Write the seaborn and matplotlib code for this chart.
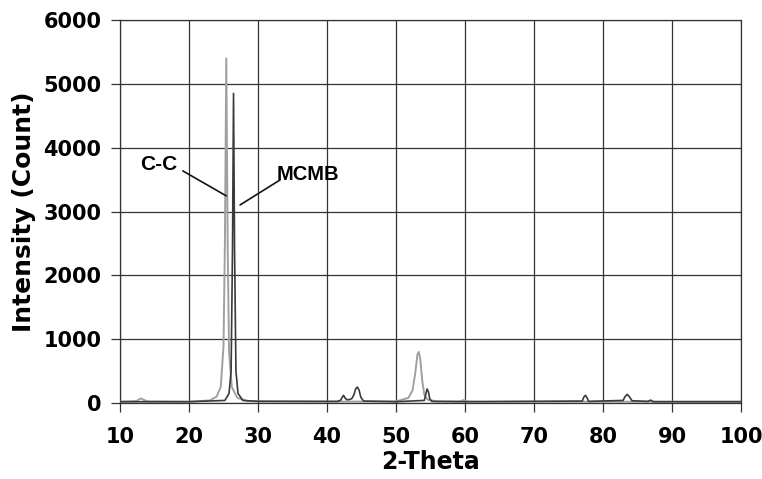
import matplotlib
matplotlib.use("Agg")
import matplotlib.pyplot as plt
import seaborn as sns
import pandas as pd

# XRD patterns, traced as (2-theta, counts) vertices
cc_theta = [10, 12.4, 12.8, 13.1, 13.5, 14.0, 20, 23.0, 24.0, 24.6, 25.0, 25.2,
            25.4, 25.6, 25.8, 26.2, 27.0, 28.5, 40, 50, 51.8, 52.4, 52.8, 53.1,
            53.3, 53.5, 53.8, 54.1, 54.6, 56, 59.3, 59.8, 60.3, 62, 100]
cc_count = [20, 30, 60, 70, 45, 25, 20, 40, 100, 250, 900, 2500,
            5400, 2500, 800, 250, 80, 30, 20, 25, 80, 200, 480, 760,
            800, 700, 350, 130, 50, 25, 25, 45, 25, 20, 20]

mcmb_theta = [10, 20, 25.2, 25.8, 26.1, 26.3, 26.45, 26.6, 26.8, 27.1, 27.8, 30,
              41.5, 42.0, 42.2, 42.4, 42.6, 42.9, 43.3, 43.6, 43.9, 44.15, 44.4,
              44.65, 44.9, 45.3, 50, 54.1, 54.3, 54.5, 54.7, 54.9, 55.2, 60,
              77.0, 77.2, 77.45, 77.7, 77.9, 82.9, 83.2, 83.5, 83.8, 84.2,
              86.5, 86.9, 87.3, 100]
mcmb_count = [20, 20, 40, 150, 500, 2400, 4850, 2400, 500, 150, 40, 25,
              25, 45, 90, 120, 80, 50, 55, 70, 130, 220, 250,
              200, 90, 30, 20, 40, 130, 220, 170, 60, 25, 20,
              30, 90, 120, 80, 25, 40, 100, 135, 100, 35,
              25, 45, 20, 20]

x_ticks = [10, 20, 30, 40, 50, 60, 70, 80, 90, 100]
y_ticks = [0, 1000, 2000, 3000, 4000, 5000, 6000]

sns.set_style("ticks")
plt.rcParams["font.family"] = ["DejaVu Sans"]
plt.rcParams["text.color"] = "black"
plt.rcParams["axes.labelcolor"] = "black"

fig = plt.figure(figsize=(7.62, 4.79), dpi=100)
ax = fig.add_axes([0.1575, 0.1587, 0.815, 0.7995])

cc = pd.DataFrame({"theta": cc_theta, "count": cc_count})
mcmb = pd.DataFrame({"theta": mcmb_theta, "count": mcmb_count})

sns.lineplot(data=cc, x="theta", y="count", sort=False, estimator=None,
             color="#a0a0a0", linewidth=1.4, ax=ax, zorder=3)
sns.lineplot(data=mcmb, x="theta", y="count", sort=False, estimator=None,
             color="#3a3a3a", linewidth=1.2, ax=ax, zorder=4)

ax.set_xlim(10, 100)
ax.set_ylim(0, 6000)
ax.set_xticks(x_ticks)
ax.set_yticks(y_ticks)
ax.grid(True, color="#333333", linewidth=0.9)
ax.set_axisbelow(True)
for s in ax.spines.values():
    s.set_color("#333333")
    s.set_linewidth(0.9)
ax.tick_params(direction="out", length=6.5, width=0.9, color="#333333",
               labelsize=15, labelcolor="black")
ax.tick_params(axis="x", pad=11)
ax.tick_params(axis="y", pad=7)
for lab in ax.get_xticklabels() + ax.get_yticklabels():
    lab.set_fontweight("bold")

ax.set_xlabel("2-Theta", fontsize=17, fontweight="bold", labelpad=2)
ax.set_ylabel("Intensity (Count)", fontsize=18, fontweight="bold", labelpad=5)

# peak labels with leader lines
ax.text(15.65, 3730, "C-C", fontsize=15, fontweight="bold",
        family="Liberation Sans", ha="center", va="center", color="black")
ax.text(37.2, 3575, "MCMB", fontsize=14.5, fontweight="bold",
        family="Liberation Sans", ha="center", va="center", color="black")
line_style = dict(arrowstyle="-", color="#111111", lw=1.2, shrinkA=0, shrinkB=0)
ax.annotate("", xy=(25.4, 3245), xytext=(19.1, 3636), arrowprops=line_style)
ax.annotate("", xy=(27.4, 3103), xytext=(33.2, 3495), arrowprops=line_style)

fig.savefig("out.png", dpi=100, facecolor="white")
